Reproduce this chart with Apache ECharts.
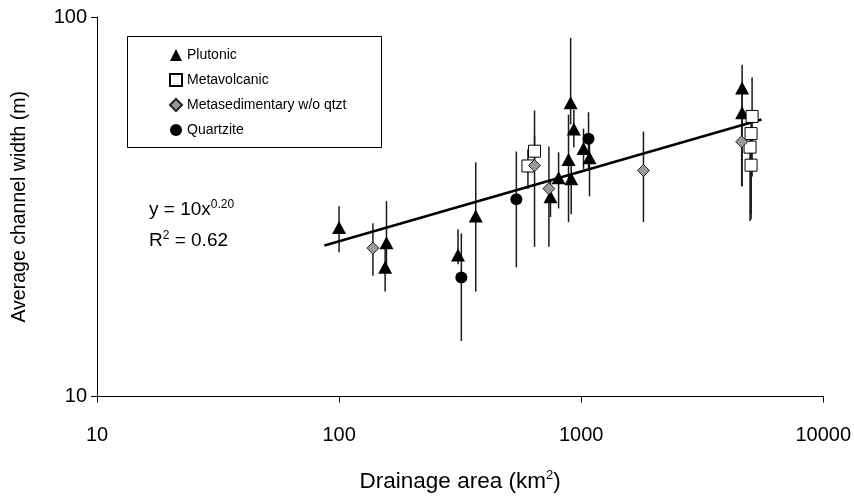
<!DOCTYPE html>
<html>
<head>
<meta charset="utf-8">
<script src="https://cdn.jsdelivr.net/npm/echarts@6/dist/echarts.min.js"></script>
<style>
  html, body { margin: 0; padding: 0; background: #fff; }
  #chart { width: 854px; height: 498px; }
</style>
</head>
<body>
<div id="chart"></div>
<script>
// Each row: [drainage area (km²), mean channel width (m), error-bar low, error-bar high]
const plutonic = [
  [100, 27.9, 24.0, 31.7],
  [157, 25.4, 21.5, 32.7],
  [155, 21.9, 18.9, 25.0],
  [310, 23.6, 22.3, 27.6],
  [367, 29.9, 18.9, 41.4],
  [747, 33.6, 29.7, 37.3],
  [807, 37.7, 31.3, 44.0],
  [887, 42.1, 28.8, 55.3],
  [910, 37.5, 30.2, 40.9],
  [933, 50.7, 45.3, 57.0],
  [905, 59.4, 52.1, 88.1],
  [1023, 45.0, 39.7, 50.8],
  [1083, 42.6, 33.7, 47.0],
  [4624, 65.0, 35.8, 74.8],
  [4624, 55.9, 50.5, 62.4]
];
const metavolcanic = [
  [603, 40.5, 35.2, 44.8],
  [642, 44.3, 40.8, 48.7],
  [5085, 54.7, 38.0, 69.3],
  [5035, 49.3, 30.2, 56.3],
  [4987, 45.4, 29.0, 50.5],
  [5035, 40.7, 29.3, 44.8]
];
const metasedimentary = [
  [138, 24.6, 20.8, 28.6],
  [642, 40.6, 24.8, 56.7],
  [736, 35.3, 24.8, 45.6],
  [1809, 39.4, 28.8, 49.9],
  [4605, 46.9, 35.8, 52.0]
];
const quartzite = [
  [320, 20.6, 14.0, 26.9],
  [540, 33.1, 21.9, 44.2],
  [1073, 47.8, 40.0, 56.1]
];
// Power-law fit drawn across the data range
const trendLine = [[87, 25.0], [5560, 53.7]];

const xTicks = [10, 100, 1000, 10000];
const yTicks = [10, 100];

const FONT = 'Liberation Sans, Arial, sans-serif';
const chart = echarts.init(document.getElementById('chart'), null, { renderer: 'canvas' });

const allRows = [].concat(plutonic, metavolcanic, metasedimentary, quartzite);
const pts = rows => rows.map(r => [r[0], r[1]]);
const plain = v => String(Math.round(v));

const option = {
  backgroundColor: '#fff',
  animation: false,
  textStyle: { fontFamily: FONT },
  grid: { left: 97, right: 30, top: 17, bottom: 100 },
  xAxis: {
    type: 'log', logBase: 10, min: xTicks[0], max: xTicks[xTicks.length - 1],
    axisLine: { lineStyle: { color: '#000', width: 1 } },
    axisTick: { show: true, length: 6, lineStyle: { color: '#000' } },
    minorTick: { show: false },
    splitLine: { show: false },
    axisLabel: { color: '#000', fontSize: 20, margin: 29, fontFamily: FONT, formatter: plain },
    name: '{t|Drainage area (km}{s|2}{t|)}',
    nameLocation: 'middle', nameGap: 72,
    nameTextStyle: {
      rich: {
        t: { fontSize: 22.5, color: '#000', fontFamily: FONT, lineHeight: 26 },
        s: { fontSize: 13, color: '#000', fontFamily: FONT, verticalAlign: 'top', lineHeight: 13 }
      }
    }
  },
  yAxis: {
    type: 'log', logBase: 10, min: yTicks[0], max: yTicks[yTicks.length - 1],
    axisLine: { show: true, lineStyle: { color: '#000', width: 1 } },
    axisTick: { show: true, length: 6, lineStyle: { color: '#000' } },
    minorTick: { show: false },
    splitLine: { show: false },
    axisLabel: { color: '#000', fontSize: 20, margin: 10, fontFamily: FONT, formatter: plain },
    name: 'Average channel width (m)',
    nameLocation: 'middle', nameGap: 67, nameRotate: 90,
    nameTextStyle: { fontSize: 19.5, color: '#000', fontFamily: FONT }
  },
  legend: {
    orient: 'vertical', left: 164, top: 43, z: 10,
    itemWidth: 12, itemHeight: 12, itemGap: 11,
    textStyle: { fontSize: 14, color: '#000', fontFamily: FONT },
    data: ['Plutonic', 'Metavolcanic', 'Metasedimentary w/o qtzt', 'Quartzite']
  },
  graphic: [
    {
      type: 'rect', z: 1, silent: true,
      shape: { x: 127.5, y: 36.5, width: 254, height: 111 },
      style: { fill: 'none', stroke: '#000', lineWidth: 1 }
    },
    {
      type: 'text', left: 149, top: 199, z: 10,
      style: {
        text: '{b|y = 10x}{s|0.20}',
        rich: {
          b: { fontSize: 19, fill: '#000', fontFamily: FONT, lineHeight: 22 },
          s: { fontSize: 12, fill: '#000', fontFamily: FONT, verticalAlign: 'top', lineHeight: 12 }
        }
      }
    },
    {
      type: 'text', left: 149, top: 230, z: 10,
      style: {
        text: '{b|R}{s|2}{b| = 0.62}',
        rich: {
          b: { fontSize: 19, fill: '#000', fontFamily: FONT, lineHeight: 22 },
          s: { fontSize: 12, fill: '#000', fontFamily: FONT, verticalAlign: 'top', lineHeight: 12 }
        }
      }
    }
  ],
  series: [
    {
      name: 'errorbars', type: 'custom', z: 2, silent: true,
      data: allRows,
      encode: { x: 0, y: [2, 3] },
      renderItem: function (params, api) {
        const x = api.value(0);
        const lo = api.coord([x, api.value(2)]);
        const hi = api.coord([x, api.value(3)]);
        return {
          type: 'line',
          shape: { x1: lo[0], y1: lo[1], x2: hi[0], y2: hi[1] },
          style: { stroke: '#1a1a1a', lineWidth: 1.5 }
        };
      }
    },
    {
      name: 'fit', type: 'line', z: 3, data: trendLine,
      symbol: 'none', lineStyle: { color: '#000', width: 2.5 }, silent: true
    },
    {
      name: 'Plutonic', type: 'scatter', z: 4, data: pts(plutonic),
      symbol: 'triangle', symbolSize: [14, 13],
      itemStyle: { color: '#000', opacity: 1 }
    },
    {
      name: 'Metavolcanic', type: 'scatter', z: 4, data: pts(metavolcanic),
      symbol: 'rect', symbolSize: 12,
      itemStyle: { color: '#fff', borderColor: '#000', borderWidth: 1, opacity: 1 }
    },
    {
      name: 'Metasedimentary w/o qtzt', type: 'scatter', z: 4, data: pts(metasedimentary),
      symbol: 'diamond', symbolSize: 12,
      itemStyle: { color: '#999', borderColor: '#222', borderWidth: 1, opacity: 1 }
    },
    {
      name: 'Quartzite', type: 'scatter', z: 4, data: pts(quartzite),
      symbol: 'circle', symbolSize: 12,
      itemStyle: { color: '#000', opacity: 1 }
    }
  ]
};
chart.setOption(option);
</script>
</body>
</html>
